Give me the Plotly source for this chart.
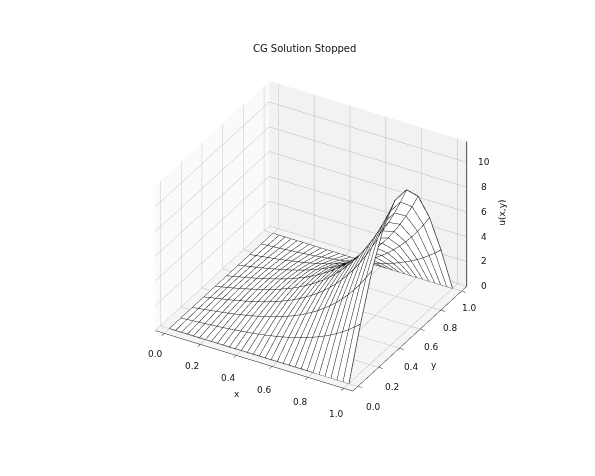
import plotly.graph_objects as go

x_vals = [0, 0.0333, 0.0667, 0.1, 0.1333, 0.1667, 0.2, 0.2333, 0.2667, 0.3, 0.3333, 0.3667, 0.4, 0.4333, 0.4667,
          0.5, 0.5333, 0.5667, 0.6, 0.6333, 0.6667, 0.7, 0.7333, 0.7667, 0.8, 0.8333, 0.8667, 0.9, 0.9333, 0.9667, 1]
y_vals = [0, 0.1111, 0.2222, 0.3333, 0.4444, 0.5556, 0.6667, 0.7778, 0.8889, 1]

row_0 = [0] * 31
row_1 = [0, .04, .07, .11, .15, .19, .23, .27, .32, .37, .43, .49, .55, .62, .70, .79, .88, .99, 1.10, 1.23, 1.37, 1.52, 1.70, 1.89, 2.10, 2.33, 2.59, 2.88, 3.20, 3.56, 3.95]
row_2 = [0, .07, .14, .21, .28, .35, .43, .51, .60, .70, .80, .92, 1.04, 1.17, 1.32, 1.48, 1.66, 1.85, 2.07, 2.31, 2.57, 2.86, 3.19, 3.54, 3.94, 4.38, 4.87, 5.41, 6.01, 6.68, 7.42]
row_3 = [0, .09, .18, .28, .37, .47, .58, .69, .81, .94, 1.08, 1.23, 1.40, 1.58, 1.78, 1.99, 2.23, 2.50, 2.79, 3.11, 3.46, 3.86, 4.29, 4.78, 5.31, 5.90, 6.56, 7.29, 8.10, 9.00, 10.00]
row_4 = [0, .10, .21, .31, .42, .54, .66, .79, .93, 1.07, 1.23, 1.40, 1.59, 1.79, 2.02, 2.27, 2.54, 2.84, 3.17, 3.53, 3.94, 4.39, 4.88, 5.43, 6.04, 6.71, 7.46, 8.29, 9.21, 10.24, 11.37]
z_vals = [row_0, row_1, row_2, row_3, row_4, row_4, row_3, row_2, row_1, row_0]

xy_ticks = [0, 0.2, 0.4, 0.6, 0.8, 1.0]
z_ticks = [0, 2, 4, 6, 8, 10]
x_range = [-0.05, 1.05]
y_range = [-0.05, 1.05]
z_range = [0, 11.7]

FONT = "DejaVu Sans"
GRID = "#b8b8b8"
INK = "#111111"
TEXT = dict(family=FONT, size=9, color="#111")


def axis(vals, rng, bg, native=True):
    d = dict(
        range=rng, tickvals=vals, title=dict(text=""),
        showticklabels=False,
        showbackground=True, backgroundcolor=bg,
        gridcolor=GRID, gridwidth=1, zeroline=False,
        showspikes=False,
    )
    if native:
        d.update(showline=True, linecolor=INK, linewidth=1,
                 ticks="outside", ticklen=5, tickcolor=INK, tickwidth=1)
    else:
        d.update(showline=False, ticks="")
    return d


fig = go.Figure(go.Surface(
    x=x_vals, y=y_vals, z=z_vals,
    colorscale=[[0, "white"], [1, "white"]], showscale=False,
    lighting=dict(ambient=1, diffuse=0, specular=0, roughness=1, fresnel=0),
    hoverinfo="skip",
    contours=dict(
        x=dict(show=True, start=0, end=1, size=1 / 30, color=INK, width=1.5, highlight=False),
        y=dict(show=True, start=0, end=1, size=1 / 9, color=INK, width=1.5, highlight=False),
        z=dict(show=False, highlight=False),
    ),
))


def wire(xs, ys, zs):
    fig.add_trace(go.Scatter3d(x=xs, y=ys, z=zs, mode="lines", line=dict(color=INK, width=1.5),
                               hoverinfo="skip", showlegend=False))


# outline of the mesh
wire(x_vals, [y_vals[0]] * len(x_vals), z_vals[0])
wire(x_vals, [y_vals[-1]] * len(x_vals), z_vals[-1])
wire([x_vals[0]] * len(y_vals), y_vals, [r[0] for r in z_vals])
wire([x_vals[-1]] * len(y_vals), y_vals, [r[-1] for r in z_vals])

# z axis drawn at the right-hand corner of the box
xr, yr = x_range[1], y_range[1]
wire([xr, xr], [yr, yr], z_range)
for t in z_ticks:
    wire([xr, xr + 0.02], [yr, yr + 0.02], [t, t])

annotations = [
    dict(x=xr, y=yr, z=t, text=str(t), showarrow=False, xanchor="center", xshift=17, font=TEXT)
    for t in z_ticks
]
annotations += [
    dict(x=t, y=y_range[0], z=0, text=f"{t:.1f}", showarrow=False, xanchor="center", yanchor="middle",
         xshift=-9 + 2 * t, yshift=-20.5 - 5.5 * t, font=TEXT)
    for t in xy_ticks
]
annotations += [
    dict(x=x_range[1], y=t, z=0, text=f"{t:.1f}", showarrow=False, xanchor="center", yanchor="middle",
         xshift=15 - 7 * t, yshift=-21 + 4 * t, font=TEXT)
    for t in xy_ticks
]
annotations += [
    dict(x=xr, y=yr, z=5.5, text="u(x,y)", showarrow=False, textangle=-90, xshift=35, yshift=5, font=TEXT),
    dict(x=0.5, y=y_range[0], z=0, text="x", showarrow=False, xshift=-17, yshift=-34, font=TEXT),
    dict(x=x_range[1], y=0.5, z=0, text="y", showarrow=False, xshift=24, yshift=-27, font=TEXT),
]

fig.update_layout(
    width=595, height=476,
    margin=dict(l=0, r=0, t=0, b=0),
    paper_bgcolor="white",
    showlegend=False,
    title=dict(text="CG Solution Stopped", x=0.512, xanchor="center", y=0.899, yanchor="middle",
               font=dict(family=FONT, size=10, color="#111")),
    scene=dict(
        domain=dict(x=[0.046, 1], y=[0.0262, 0.9832]),
        aspectmode="manual", aspectratio=dict(x=1, y=1, z=0.75),
        camera=dict(eye=dict(x=0.884, y=-1.532, z=1.106), center=dict(x=0, y=0, z=0), up=dict(x=0, y=0, z=1),
                    projection=dict(type="orthographic")),
        xaxis=axis(xy_ticks, x_range, "#fafafa"),
        yaxis=axis(xy_ticks, y_range, "#f2f2f2"),
        zaxis=axis(z_ticks, z_range, "#f5f5f5", native=False),
        annotations=annotations,
    ),
)

fig.write_html("out.html", post_script="document.body.style.margin='0';", config=dict(displayModeBar=False))
